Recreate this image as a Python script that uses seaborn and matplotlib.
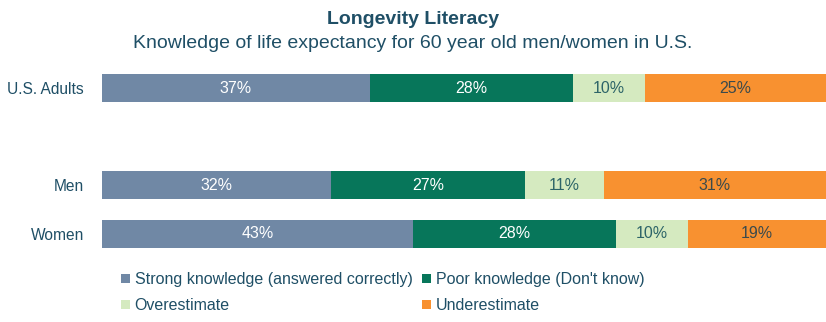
import matplotlib
matplotlib.use("Agg")
import matplotlib.pyplot as plt
import seaborn as sns
import pandas as pd
import numpy as np
from matplotlib.patches import Patch

groups = ["U.S. Adults", "Men", "Women"]
order = ["U.S. Adults", " ", "Men", "Women"]
series = ["Strong knowledge (answered correctly)", "Poor knowledge (Don't know)",
          "Overestimate", "Underestimate"]
strong = [37, 32, 43]
poor = [28, 27, 28]
over = [10, 11, 10]
under = [25, 31, 19]
colors = ["#7088a5", "#07765a", "#d5eac0", "#f89130"]
label_colors = ["white", "white", "#2d6468", "#3b4a4c"]

sns.set_theme(style="white")
plt.rcParams["font.family"] = ["Liberation Sans", "DejaVu Sans"]
text_color = "#1f4f66"

vals = np.array([strong, poor, over, under], dtype=float)
shares = vals / vals.sum(axis=0) * 100  # 100% stacked
cum = np.cumsum(shares, axis=0)

fig = plt.figure(figsize=(8.26, 3.22), dpi=100)
ax = fig.add_axes([102 / 826, 1 - 258 / 322, 1 - 102 / 826, (258 - 64) / 322])

for i in range(3, -1, -1):
    df = pd.DataFrame({"group": groups, "value": cum[i]})
    sns.barplot(data=df, x="value", y="group", order=order, color=colors[i],
                orient="h", width=0.58, saturation=1, ax=ax, edgecolor="none",
                linewidth=0)

for i in range(4):
    for j, g in enumerate(groups):
        y = order.index(g)
        left = cum[i][j] - shares[i][j]
        cx = (left + cum[i][j]) / 2
        ax.text(cx, y, f"{int(vals[i][j])}%", ha="center", va="center",
                fontsize=11.5, color=label_colors[i])

ax.set_xlim(0, 100)
ax.set_ylim(3.5, -0.5)
ax.set_xlabel("")
ax.set_ylabel("")
ax.set_xticks([])
ax.tick_params(axis="y", length=0, pad=13, labelsize=11.2, labelcolor=text_color)
for s in ax.spines.values():
    s.set_visible(False)

fig.text(0.5, 1 - 20 / 322, "Longevity Literacy", ha="center", va="center",
         fontsize=14, fontweight="bold", color=text_color)
fig.text(0.5, 1 - 44 / 322,
         "Knowledge of life expectancy for 60 year old men/women in U.S.",
         ha="center", va="center", fontsize=14, color=text_color)

handles = [Patch(facecolor=colors[k], edgecolor="none") for k in range(4)]
order_idx = [0, 2, 1, 3]
leg = fig.legend([handles[k] for k in order_idx], [series[k] for k in order_idx],
                 ncol=2, loc="upper left", bbox_to_anchor=(121 / 826, 1 - 272 / 322),
                 frameon=False, fontsize=11.5, handlelength=0.55, handleheight=0.55,
                 handletextpad=0.3, columnspacing=0.6, labelspacing=0.7,
                 borderpad=0, borderaxespad=0)
for t in leg.get_texts():
    t.set_color(text_color)

fig.savefig("out.png", dpi=100)
